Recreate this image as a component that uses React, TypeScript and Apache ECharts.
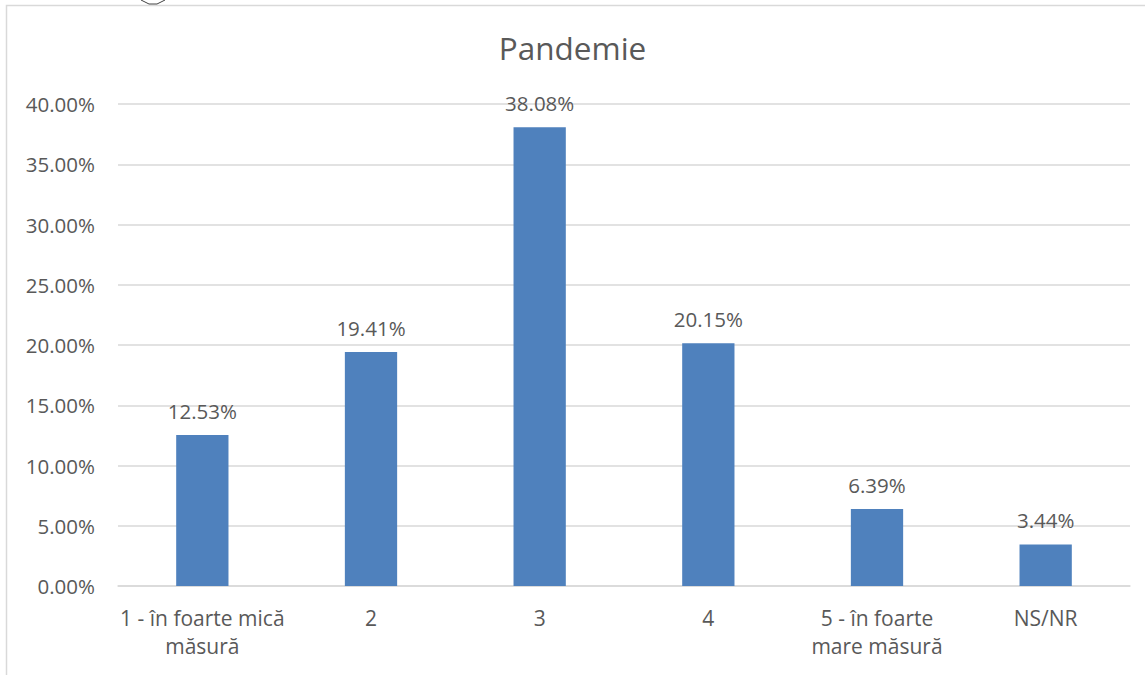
import React, { useEffect, useRef } from "react";
import * as echarts from "echarts";

const title = "Pandemie";
const categories = [
  "1 - în foarte mică\nmăsură",
  "2",
  "3",
  "4",
  "5 - în foarte\nmare măsură",
  "NS/NR",
];
const values = [12.53, 19.41, 38.08, 20.15, 6.39, 3.44];
const yMin = 0;
const yMax = 40;
const yInterval = 5;

const FONT = "'Open Sans', 'Noto Sans', sans-serif";
const TEXT = "#595959";

export default function App() {
  const ref = useRef<HTMLDivElement>(null);
  useEffect(() => {
    if (!ref.current) return;
    const chart = echarts.init(ref.current, null, { renderer: "svg" });
    chart.setOption({
      animation: false,
      backgroundColor: "#ffffff",
      title: {
        text: title,
        left: "center",
        top: 26,
        textStyle: { fontFamily: FONT, fontSize: 31.5, fontWeight: "normal", color: TEXT },
      },
      grid: { left: 118, right: 15, top: 104, bottom: 89, containLabel: false },
      xAxis: {
        type: "category",
        data: categories,
        axisLine: { show: true, lineStyle: { color: "#d9d9d9", width: 1.5 } },
        axisTick: { show: false },
        axisLabel: {
          interval: 0,
          margin: 18,
          fontFamily: FONT,
          fontSize: 21,
          lineHeight: 28,
          color: TEXT,
        },
      },
      yAxis: {
        type: "value",
        min: yMin,
        max: yMax,
        interval: yInterval,
        axisLine: { show: false },
        axisTick: { show: false },
        splitLine: { lineStyle: { color: "#d9d9d9", width: 1.5 } },
        axisLabel: {
          margin: 23,
          fontFamily: FONT,
          fontSize: 20.5,
          color: TEXT,
          formatter: (v: number) => v.toFixed(2) + "%",
        },
      },
      series: [
        {
          type: "bar",
          data: values,
          barWidth: "31%",
          itemStyle: { color: "#4F81BD" },
          label: {
            show: true,
            position: "top",
            distance: 14,
            fontFamily: FONT,
            fontSize: 20.5,
            color: TEXT,
            formatter: (p: any) => p.value.toFixed(2) + "%",
          },
        },
      ],
      graphic: [
        {
          type: "rect",
          shape: { x: 6.5, y: 5.5, width: 1200, height: 720 },
          style: { fill: "none", stroke: "#d9d9d9", lineWidth: 1.5 },
          silent: true,
        },
        {
          type: "polyline",
          shape: { points: [[141, 0], [149, 4], [157, 4], [165, 0]] },
          style: { fill: "none", stroke: "#404040", lineWidth: 1 },
          silent: true,
        },
      ],
    });
    return () => chart.dispose();
  }, []);
  return (
    <div
      ref={ref}
      style={{ position: "fixed", left: 0, top: 0, width: 1145, height: 675 }}
    />
  );
}
